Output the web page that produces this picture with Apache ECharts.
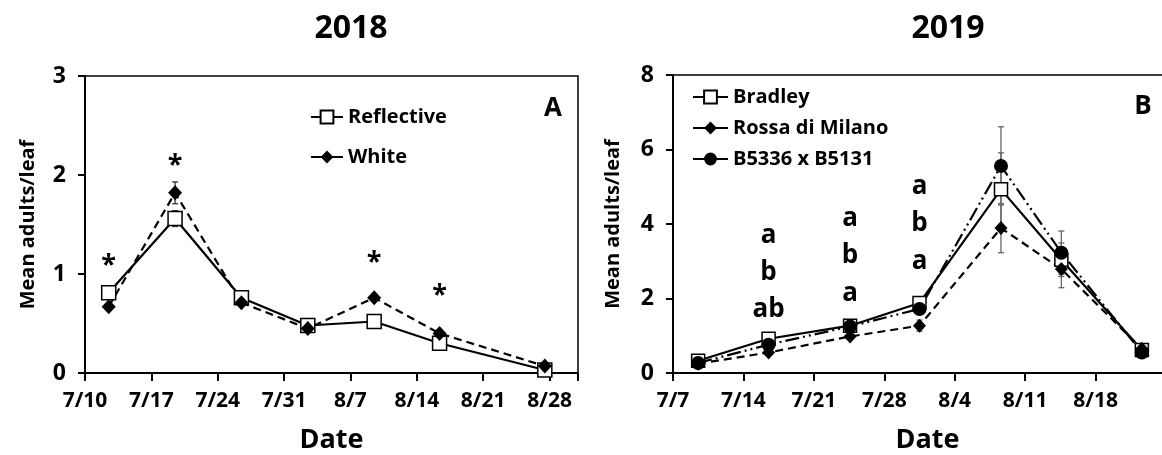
<!DOCTYPE html>
<html>
<head>
<meta charset="utf-8">
<title>Mean adults per leaf, 2018 and 2019</title>
<script src="https://cdn.jsdelivr.net/npm/echarts@6/dist/echarts.min.js"></script>
<style>
  html, body { margin: 0; padding: 0; background: #fff; }
  #chart { width: 1162px; height: 455px; }
</style>
</head>
<body>
<div id="chart"></div>
<script>
// panel A (2018): x = days after 7/10
const days2018 = [2.5, 9.5, 16.5, 23.5, 30.5, 37.4, 48.5];
const reflective = [0.81, 1.56, 0.76, 0.48, 0.52, 0.30, 0.03];
const reflectiveErr = [0.04, 0.08, 0.03, 0.03, 0.03, 0.03, 0.01];
const white = [0.67, 1.82, 0.71, 0.45, 0.76, 0.40, 0.07];
const whiteErr = [0.03, 0.11, 0.03, 0.02, 0.03, 0.03, 0.01];
const ticks2018 = ['7/10', '7/17', '7/24', '7/31', '8/7', '8/14', '8/21', '8/28'];
const starDays = [2.5, 9.5, 30.5, 37.4];
const starValues = [1.09, 2.1, 1.12, 0.78];

// panel B (2019): x = days after 7/7
const days2019 = [2.5, 9.5, 17.6, 24.5, 32.6, 38.6, 46.6];
const bradley = [0.33, 0.92, 1.27, 1.88, 4.93, 3.04, 0.62];
const bradleyErr = [0.05, 0.08, 0.1, 0.15, 0.98, 0.45, 0.05];
const rossa = [0.25, 0.55, 0.98, 1.27, 3.89, 2.79, 0.65];
const rossaErr = [0.03, 0.05, 0.06, 0.15, 0.66, 0.5, 0.05];
const b5336 = [0.27, 0.76, 1.25, 1.72, 5.56, 3.23, 0.55];
const b5336Err = [0.05, 0.06, 0.08, 0.1, 1.05, 0.58, 0.05];
const ticks2019 = ['7/7', '7/14', '7/21', '7/28', '8/4', '8/11', '8/18'];
const letterDays = [9.5, 9.5, 9.5, 17.6, 17.6, 17.6, 24.5, 24.5, 24.5];
const letterValues = [3.7, 2.7, 1.7, 4.15, 3.15, 2.14, 5.0, 4.02, 3.0];
const letterTexts = ['a', 'b', 'ab', 'a', 'b', 'a', 'a', 'b', 'a'];

const FONT = '"Open Sans", sans-serif';

const chart = echarts.init(document.getElementById('chart'));

function zip(xs, ys, es) {
	return xs.map((x, i) => es ? [x, ys[i], es[i]] : [x, ys[i]]);
}

function errorBars(axisIdx, xs, ys, es, color) {
	return {
		type: 'custom',
		xAxisIndex: axisIdx,
		yAxisIndex: axisIdx,
		z: 1,
		silent: true,
		data: zip(xs, ys, es),
		renderItem(params, api) {
			const x = api.value(0), y = api.value(1), e = api.value(2);
			const top = api.coord([x, y + e]);
			const bot = api.coord([x, y - e]);
			const st = { stroke: color, lineWidth: 1.3 };
			return {
				type: 'group',
				children: [
					{ type: 'line', shape: { x1: top[0], y1: top[1], x2: bot[0], y2: bot[1] }, style: st },
					{ type: 'line', shape: { x1: top[0] - 3, y1: top[1], x2: top[0] + 3, y2: top[1] }, style: st },
					{ type: 'line', shape: { x1: bot[0] - 3, y1: bot[1], x2: bot[0] + 3, y2: bot[1] }, style: st }
				]
			};
		}
	};
}

function lineSeries(name, axisIdx, xs, ys, symbol, size, fill, dash) {
	return {
		name,
		type: 'line',
		xAxisIndex: axisIdx,
		yAxisIndex: axisIdx,
		z: 3,
		data: zip(xs, ys),
		symbol,
		symbolSize: size,
		showAllSymbol: true,
		lineStyle: { color: '#000', width: 2.2, type: dash },
		itemStyle: { color: fill, borderColor: '#000', borderWidth: fill === '#fff' ? 1.5 : 0 }
	};
}

function textSeries(axisIdx, xs, ys, texts, size) {
	return {
		type: 'scatter',
		xAxisIndex: axisIdx,
		yAxisIndex: axisIdx,
		z: 4,
		silent: true,
		symbolSize: 1,
		itemStyle: { color: 'rgba(0,0,0,0)', opacity: 1 },
		data: xs.map((x, i) => ({ value: [x, ys[i]], text: texts[i] })),
		label: {
			show: true,
			position: 'inside',
			formatter: p => p.data.text,
			fontFamily: FONT,
			fontWeight: 'bold',
			fontSize: size,
			color: '#000',
			opacity: 1
		}
	};
}

const axisText = { fontFamily: FONT, fontWeight: 'bold', color: '#000' };

function xAxis(gridIndex, max, labels, namePad) {
	return {
		type: 'value',
		gridIndex,
		min: 0,
		max,
		interval: 7,
		name: 'Date',
		nameLocation: 'middle',
		nameGap: 54,
		nameTextStyle: { ...axisText, fontSize: 27, padding: [0, 0, 0, namePad] },
		axisLine: { lineStyle: { color: '#000', width: 2 } },
		axisTick: { length: 8, lineStyle: { color: '#000', width: 2 } },
		axisLabel: {
			...axisText,
			fontSize: 21,
			margin: 18,
			showMaxLabel: true,
			formatter: v => v % 7 === 0 && labels[v / 7] !== undefined ? labels[v / 7] : ''
		},
		splitLine: { show: false }
	};
}

function yAxis(gridIndex, max, interval, gap) {
	return {
		type: 'value',
		gridIndex,
		min: 0,
		max,
		interval,
		name: 'Mean adults/leaf',
		nameLocation: 'middle',
		nameGap: gap,
		nameRotate: 90,
		nameTextStyle: { ...axisText, fontSize: 20 },
		axisLine: { show: true, lineStyle: { color: '#000', width: 2 } },
		axisTick: { show: true, length: 7, lineStyle: { color: '#000', width: 2 } },
		axisLabel: { ...axisText, fontSize: 23, margin: 19 },
		splitLine: { show: false }
	};
}

const legendText = { ...axisText, fontSize: 20, lineHeight: 20 };

const option = {
	animation: false,
	backgroundColor: '#fff',
	graphic: [
		{ type: 'text', x: 351, y: 29, style: { text: '2018', font: 'bold 32px ' + FONT, textAlign: 'center', textVerticalAlign: 'middle', fill: '#000' } },
		{ type: 'text', x: 948, y: 29, style: { text: '2019', font: 'bold 32px ' + FONT, textAlign: 'center', textVerticalAlign: 'middle', fill: '#000' } },
		{ type: 'text', x: 553, y: 109, style: { text: 'A', font: 'bold 26px ' + FONT, textAlign: 'center', textVerticalAlign: 'middle', fill: '#000' } },
		{ type: 'text', x: 1143, y: 107, style: { text: 'B', font: 'bold 26px ' + FONT, textAlign: 'center', textVerticalAlign: 'middle', fill: '#000' } }
	],
	grid: [
		{ left: 85, right: 584, top: 76, bottom: 82, outerBoundsMode: 'none', show: true, borderColor: '#000', borderWidth: 1.5 },
		{ left: 673, right: -4, top: 75, bottom: 82, outerBoundsMode: 'none', show: true, borderColor: '#000', borderWidth: 1.5 }
	],
	legend: [
		{
			data: ['Reflective', 'White'],
			orient: 'vertical',
			left: 310, top: 107, padding: 0,
			itemWidth: 32, itemHeight: 16, itemGap: 20,
			lineStyle: { type: 'solid' },
			textStyle: legendText
		},
		{
			data: ['Bradley', 'Rossa di Milano', 'B5336 x B5131'],
			orient: 'vertical',
			left: 692, top: 87, padding: 0,
			itemWidth: 35, itemHeight: 16, itemGap: 11,
			lineStyle: { type: 'solid' },
			textStyle: legendText
		}
	],
	xAxis: [xAxis(0, 52, ticks2018, 0), xAxis(1, 49, ticks2019, 16)],
	yAxis: [yAxis(0, 3, 1, 47), yAxis(1, 8, 2, 50)],
	series: [
		errorBars(0, days2018, reflective, reflectiveErr, '#333'),
		errorBars(0, days2018, white, whiteErr, '#333'),
		lineSeries('Reflective', 0, days2018, reflective, 'rect', 14, '#fff', 'solid'),
		lineSeries('White', 0, days2018, white, 'diamond', [14, 15], '#000', [8, 5]),
		textSeries(0, starDays, starValues, starDays.map(() => '*'), 27),

		errorBars(1, days2019, bradley, bradleyErr, '#666'),
		errorBars(1, days2019, rossa, rossaErr, '#666'),
		errorBars(1, days2019, b5336, b5336Err, '#666'),
		lineSeries('Bradley', 1, days2019, bradley, 'rect', 13, '#fff', 'solid'),
		lineSeries('Rossa di Milano', 1, days2019, rossa, 'diamond', [13, 14], '#000', [8, 5]),
		lineSeries('B5336 x B5131', 1, days2019, b5336, 'circle', 14, '#000', [14, 4, 2, 4, 2, 4]),
		textSeries(1, letterDays, letterValues, letterTexts, 26)
	]
};

chart.setOption(option);
</script>
</body>
</html>
